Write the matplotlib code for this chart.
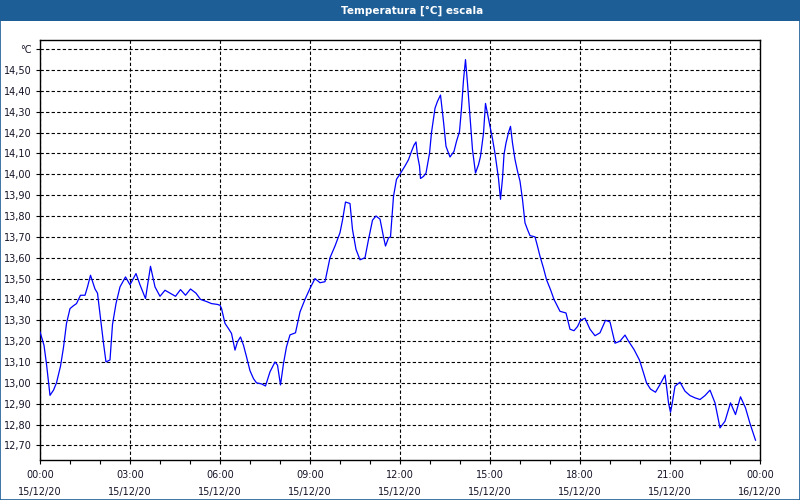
import matplotlib
matplotlib.use('Agg')
import matplotlib.pyplot as plt
from matplotlib.patches import Rectangle

# ---- data (minutes since 15/12/20 00:00, temperature °C) ----
minutes = [0, 8, 13, 20, 27, 33, 41, 47, 53, 60, 67, 73, 81, 90, 95, 101, 110, 115,
           121, 127, 132, 140, 145, 152, 160, 171, 180, 192, 200, 211, 221, 230, 240,
           250, 260, 271, 281, 291, 301, 312, 321, 333, 343, 355, 360, 363, 370, 377,
           383, 390, 395, 401, 407, 413, 420, 427, 433, 443, 451, 460, 470, 475, 481,
           487, 493, 500, 511, 520, 530, 540, 550, 560, 570, 580, 590, 600, 605, 611,
           620, 625, 632, 640, 650, 657, 665, 672, 680, 687, 691, 697, 701, 707, 713,
           721, 730, 737, 743, 748, 752, 755, 759, 761, 767, 772, 779, 783, 790, 795,
           801, 807, 812, 820, 828, 833, 839, 843, 847, 851, 855, 860, 865, 871, 877,
           881, 887, 891, 895, 900, 905, 910, 915, 917, 921, 925, 928, 932, 937, 941,
           945, 950, 955, 960, 965, 970, 975, 980, 990, 995, 1000, 1007, 1013, 1021,
           1028, 1035, 1040, 1052, 1060, 1068, 1075, 1081, 1090, 1100, 1110, 1120,
           1131, 1140, 1150, 1160, 1170, 1177, 1188, 1199, 1207, 1213, 1221, 1231,
           1240, 1250, 1253, 1257, 1261, 1264, 1270, 1280, 1290, 1300, 1310, 1320,
           1330, 1340, 1350, 1360, 1370, 1381, 1391, 1401, 1411, 1420, 1431]
temps = [13.245, 13.18, 13.09, 12.94, 12.965, 13.00, 13.08, 13.17, 13.285, 13.356,
         13.37, 13.38, 13.42, 13.42, 13.46, 13.516, 13.45, 13.43, 13.31, 13.19, 13.10,
         13.11, 13.28, 13.38, 13.46, 13.508, 13.47, 13.524, 13.47, 13.404, 13.559,
         13.46, 13.415, 13.444, 13.43, 13.415, 13.447, 13.42, 13.45, 13.43, 13.40,
         13.39, 13.38, 13.376, 13.372, 13.357, 13.285, 13.26, 13.237, 13.157, 13.197,
         13.22, 13.18, 13.125, 13.058, 13.02, 13.00, 12.995, 12.985, 13.053, 13.10,
         13.085, 12.99, 13.093, 13.173, 13.23, 13.24, 13.34, 13.40, 13.453, 13.50,
         13.48, 13.485, 13.60, 13.656, 13.72, 13.78, 13.867, 13.86, 13.735, 13.64,
         13.59, 13.60, 13.687, 13.78, 13.80, 13.785, 13.70, 13.656, 13.695, 13.70,
         13.894, 13.976, 14.005, 14.04, 14.07, 14.11, 14.14, 14.155, 14.09, 14.04,
         13.98, 13.99, 14.006, 14.10, 14.20, 14.317, 14.35, 14.38, 14.253, 14.134,
         14.083, 14.11, 14.158, 14.205, 14.317, 14.452, 14.55, 14.436, 14.277, 14.118,
         14.006, 14.046, 14.086, 14.197, 14.34, 14.29, 14.23, 14.17, 14.10, 14.015,
         13.98, 13.88, 13.98, 14.095, 14.15, 14.20, 14.23, 14.15, 14.071, 14.015,
         13.967, 13.879, 13.767, 13.735, 13.706, 13.70, 13.655, 13.607, 13.55, 13.495,
         13.447, 13.40, 13.367, 13.343, 13.335, 13.257, 13.25, 13.27, 13.30, 13.31,
         13.257, 13.226, 13.24, 13.30, 13.292, 13.19, 13.20, 13.229, 13.20, 13.16,
         13.109, 13.048, 13.00, 12.97, 12.955, 12.992, 13.037, 12.984, 12.904, 12.859,
         12.896, 12.984, 13.003, 12.96, 12.939, 12.928, 12.92, 12.939, 12.965, 12.904,
         12.784, 12.816, 12.904, 12.848, 12.933, 12.88, 12.805, 12.725]

y_ticks = [12.70, 12.80, 12.90, 13.00, 13.10, 13.20, 13.30, 13.40, 13.50, 13.60,
           13.70, 13.80, 13.90, 14.00, 14.10, 14.20, 14.30, 14.40, 14.50, 14.60]
y_labels = ['12,70', '12,80', '12,90', '13,00', '13,10', '13,20', '13,30', '13,40',
            '13,50', '13,60', '13,70', '13,80', '13,90', '14,00', '14,10', '14,20',
            '14,30', '14,40', '14,50', '°C']
x_ticks = [0, 180, 360, 540, 720, 900, 1080, 1260, 1440]
x_labels = ['00:00\n15/12/20', '03:00\n15/12/20', '06:00\n15/12/20', '09:00\n15/12/20',
            '12:00\n15/12/20', '15:00\n15/12/20', '18:00\n15/12/20', '21:00\n15/12/20',
            '00:00\n16/12/20']
x_minor = [60, 120, 240, 300, 420, 480, 600, 660, 780, 840, 960, 1020, 1140, 1200,
           1320, 1380]
title = 'Temperatura [°C] escala'

BLUE_BAR = '#1d5e97'
TXT = '#141428'

plt.rcParams['font.family'] = ['DejaVu Sans']

fig = plt.figure(figsize=(8, 5), dpi=100, facecolor='white')
ax = fig.add_axes([40 / 800, 40 / 500, 720 / 800, 420 / 500])
ax.set_facecolor('white')

ax.plot(minutes, temps, color='#0000ff', lw=0.9, zorder=3)

ax.set_xlim(0, 1440)
ax.set_ylim(12.63, 14.644)

ax.set_xticks(x_ticks)
ax.set_xticklabels(x_labels)
ax.set_xticks(x_minor, minor=True)
ax.set_yticks(y_ticks)
ax.set_yticklabels(y_labels)

ax.grid(True, which='major', color='black', linestyle=(0, (3, 2)), linewidth=0.8)
ax.tick_params(which='major', direction='out', length=3, width=0.8,
               labelsize=7, pad=3, colors='black', labelcolor=TXT)
ax.tick_params(which='minor', direction='out', length=3, width=0.8, colors='black')
ax.tick_params(axis='x', pad=4)
for lab in ax.get_xticklabels():
    lab.set_linespacing(1.95)
for s in ax.spines.values():
    s.set_linewidth(1.0)
    s.set_color('black')

# title bar
fig.patches.append(Rectangle((0, 1 - 21 / 500), 1, 21 / 500, transform=fig.transFigure,
                             facecolor=BLUE_BAR, edgecolor='none', zorder=0))
fig.text(412 / 800, 1 - 10.5 / 500, title, color='white', weight='bold',
         ha='center', va='center', fontsize=7.5)
# outer border
fig.patches.append(Rectangle((0.0005, 0.001), 0.999, 0.998, transform=fig.transFigure,
                             fill=False, edgecolor=BLUE_BAR, linewidth=1.2, zorder=5))

fig.savefig('out.png', dpi=100, facecolor='white')
